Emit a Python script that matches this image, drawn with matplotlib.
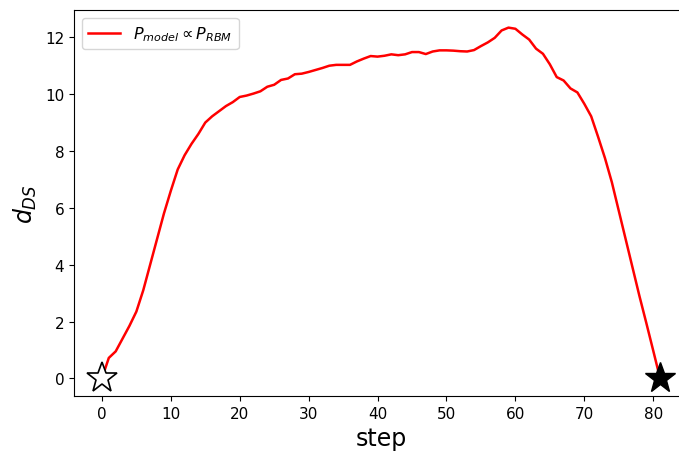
import numpy as np
import matplotlib
matplotlib.use("Agg")
import matplotlib.pyplot as plt

# d_DS along the path
d_ds = [0, 0.72, 0.95, 1.4, 1.85, 2.35, 3.1, 4.0, 4.9, 5.8,
        6.6, 7.35, 7.85, 8.25, 8.6, 9.0, 9.22, 9.4, 9.58, 9.72,
        9.9, 9.95, 10.02, 10.1, 10.26, 10.33, 10.5, 10.55, 10.7, 10.72,
        10.78, 10.85, 10.92, 11.0, 11.03, 11.03, 11.03, 11.15, 11.25, 11.34,
        11.32, 11.35, 11.4, 11.37, 11.4, 11.48, 11.48, 11.41, 11.5, 11.54,
        11.54, 11.53, 11.51, 11.5, 11.55, 11.69, 11.82, 11.98, 12.24, 12.34,
        12.3, 12.1, 11.92, 11.6, 11.42, 11.05, 10.6, 10.48, 10.2, 10.06,
        9.66, 9.22, 8.5, 7.75, 6.9, 5.9, 4.9, 3.9, 2.9, 1.95,
        0.98, 0]
steps = np.arange(len(d_ds))

fig = plt.figure(figsize=(6.79, 4.52), dpi=100)
ax = fig.add_axes([74 / 679, 1 - 397 / 452, 614 / 679, 386 / 452])

ax.plot(steps, d_ds, color="red", lw=1.8, label=r"$P_{model} \propto P_{RBM}$")
ax.plot(steps[0], d_ds[0], marker="*", ms=23, mfc="white", mec="black", mew=1.2, ls="none")
ax.plot(steps[-1], d_ds[-1], marker="*", ms=23, mfc="black", mec="black", ls="none")

ax.set_xlim(-4.05, 85.05)
ax.set_ylim(-0.62, 12.96)
ax.tick_params(labelsize=11)
ax.set_xlabel("step", fontsize=17)
ax.set_ylabel(r"$d_{DS}$", fontsize=17)
ax.legend(loc="upper left", fontsize=11.5)

fig.savefig("out.png", dpi=100)
